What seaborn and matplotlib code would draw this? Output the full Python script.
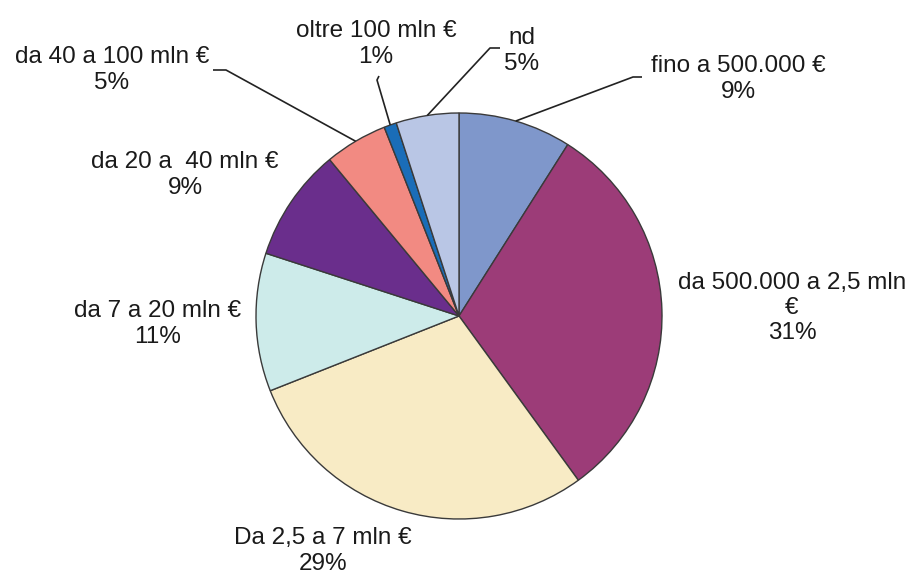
import numpy as np
import matplotlib.pyplot as plt
import seaborn as sns

# Dati
labels = ["fino a 500.000 €", "da 500.000 a 2,5 mln\n€", "Da 2,5 a 7 mln €",
          "da 7 a 20 mln €", "da 20 a  40 mln €", "da 40 a 100 mln €",
          "oltre 100 mln €", "nd"]
shares = [9, 31, 29, 11, 9, 5, 1, 5]
colors = ["#7F97CB", "#9C3C78", "#F8EBC5", "#CDEBEA", "#6A2E8C",
          "#F28A82", "#1A6DB8", "#B9C6E5"]

sns.set_style("white")
plt.rcParams['font.family'] = ['Liberation Sans', 'DejaVu Sans']

W, H = 914, 576
fig = plt.figure(figsize=(W / 100, H / 100), dpi=100)
ax = fig.add_axes([0, 0, 1, 1])

# pixel coords helper (origin top-left)
def px(x, y):
    return (x, H - y)

cx, cy, r = 459, 316, 203
wedges, _ = ax.pie(shares, colors=colors, startangle=90, counterclock=False,
                   center=px(cx, cy), radius=r,
                   wedgeprops=dict(edgecolor="#3a3a3a", linewidth=1))
ax.set_xlim(0, W)
ax.set_ylim(0, H)
ax.set_aspect("equal")
ax.axis("off")

# posizione etichette (centro del testo, in pixel)
text_pos = [(738, 79), (792, 308), (323, 551), (158, 324),
            (185, 175), (112, 70), (376, 44), (522, 51)]
# linee guida: gomito e fine (None = nessuna linea)
leaders = [[(633, 77), (642, 77)], None, None, None, None,
           [(226, 70), (213, 70)], [(377, 80), (379, 76)],
           [(490, 48), (500, 48)]]

for w, lab, val, pos, ld in zip(wedges, labels, shares, text_pos, leaders):
    ax.text(*px(*pos), f"{lab}\n{val}%", ha="center", va="center",
            fontsize=17.5, color="#1a1a1a", linespacing=1.2)
    if ld is not None:
        mid = np.deg2rad((w.theta1 + w.theta2) / 2)
        x0 = w.center[0] + w.r * np.cos(mid)
        y0 = w.center[1] + w.r * np.sin(mid)
        pts = [(x0, y0)] + [px(*p) for p in ld]
        xs, ys = zip(*pts)
        ax.plot(xs, ys, color="#222222", lw=1.2, solid_capstyle="butt")

fig.savefig("out.png", dpi=100)
